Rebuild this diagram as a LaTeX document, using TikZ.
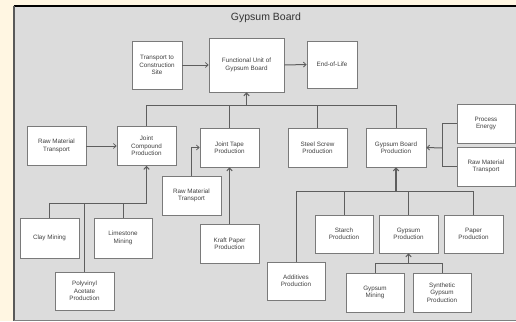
\documentclass[tikz,border=0pt]{standalone}
\usepackage{fontspec}
\setmainfont{Liberation Sans}
\usetikzlibrary{arrows.meta}
\definecolor{cream}{HTML}{FFF6E2}
\definecolor{panelgray}{HTML}{DCDCDC}
\definecolor{boxline}{HTML}{7A7A7A}
\definecolor{conn}{HTML}{5E5E5E}
\definecolor{txt}{HTML}{404040}
\begin{document}
\begin{tikzpicture}[x=1pt,y=-1pt,
  box/.style={draw=boxline,fill=white,line width=0.9pt,align=center,
    font=\fontsize{6.3}{7.4}\selectfont,text=txt,inner sep=1pt,
    minimum width=59pt,minimum height=39pt},
  link/.style={draw=conn,line width=1pt},
  arr/.style={link,-{Straight Barb[length=2.6pt,width=5pt,line width=0.8pt]}},
  mainarr/.style={draw=conn,line width=1.6pt,-{Straight Barb[length=2.8pt,width=5.5pt,line width=1pt]}}]
\useasboundingbox (0,0) rectangle (516,321);
\fill[cream] (0,0) rectangle (516,321);
\fill[panelgray] (13.5,6) rectangle (517,320);
\draw[black,line width=1.2pt] (13.5,6) -- (517,6);
\draw[gray!70!black,line width=1.6pt] (14,6) -- (14,321);
\draw[gray,line width=1pt] (13.5,320.5) -- (517,320.5);
\node[font=\fontsize{10.5}{12}\selectfont,text=black!80] (title) at (266,18) {Gypsum Board};

\node[box,minimum width=50pt,minimum height=48pt] (tr) at (157,65) {Transport to\\Construction\\Site};
\node[box,minimum width=75pt,minimum height=54pt] (fu) at (246.5,65) {Functional Unit of\\Gypsum Board};
\node[box,minimum width=50pt,minimum height=47pt] (eol) at (332,64.5) {End-of-Life};

\node[box] (rmt1) at (56.5,146) {Raw Material\\Transport};
\node[box] (jc) at (146.5,146) {Joint\\Compound\\Production};
\node[box] (jt) at (229.5,147.5) {Joint Tape\\Production};
\node[box] (ss) at (317.5,147.5) {Steel Screw\\Production};
\node[box,minimum width=60pt] (gbp) at (396,147.5) {Gypsum Board\\Production};
\node[box,minimum width=58pt] (pe) at (486,123.5) {Process\\Energy};
\node[box,minimum width=58pt] (rmt3) at (486,166.5) {Raw Material\\Transport};
\node[box] (rmt2) at (191.5,195.5) {Raw Material\\Transport};
\node[box] (kp) at (229.5,243.5) {Kraft Paper\\Production};
\node[box,minimum height=40pt] (clay) at (49.5,238) {Clay Mining};
\node[box,minimum width=58pt,minimum height=40pt] (lime) at (123,238) {Limestone\\Mining};
\node[box,minimum height=38pt] (pva) at (84.5,291) {Polyvinyl\\Acetate\\Production};
\node[box,minimum width=58pt,minimum height=38pt] (starch) at (344,234) {Starch\\Production};
\node[box,minimum height=38pt] (gp) at (408.5,234) {Gypsum\\Production};
\node[box,minimum height=38pt] (paper) at (473.5,234) {Paper\\Production};
\node[box,minimum width=58pt,minimum height=38pt] (add) at (296,281) {Additives\\Production};
\node[box,minimum width=58pt] (gm) at (375,292.5) {Gypsum\\Mining};
\node[box,minimum width=58pt] (sgp) at (442,292.5) {Synthetic\\Gypsum\\Production};

% top row
\draw[arr] (tr.east) -- (fu.west);
\draw[arr] (fu.east) -- (eol.west);

% bus into functional unit
\coordinate (b1) at (246.5,105);
\draw[link] (jc.north) |- (b1);
\draw[link] (gbp.north) |- (b1);
\draw[link] (jt.north) -- (jt.north |- b1);
\draw[link] (ss.north) -- (ss.north |- b1);
\draw[mainarr] (b1) -- (fu.south);

% joint compound
\draw[arr] (rmt1.east) -- (jc.west);
\coordinate (b2) at (146.5,203);
\draw[link] (clay.north) |- (b2);
\draw[link] (pva.north) -- (pva.north |- b2);
\draw[link] (lime.north) -- (lime.north |- b2);
\draw[mainarr] (b2) -- (jc.south);

% joint tape
\draw[arr] (rmt2.north) |- (jt.west);
\draw[mainarr] (kp.north) -- (jt.south);

% gypsum board production inputs
\coordinate (j) at (442,148);
\draw[link] (pe.west) -| (j);
\draw[link] (rmt3.west) -| (j);
\draw[arr] (j) -- (gbp.east);
\coordinate (b3) at (396,191);
\draw[link] (add.north) |- (b3);
\draw[link] (paper.north) |- (b3);
\draw[link] (starch.north) -- (starch.north |- b3);
\draw[link] (gp.north) -- (gp.north |- b3);
\draw[mainarr] (b3) -- (gbp.south);

% gypsum production
\coordinate (b4) at (408.5,263);
\draw[link] (gm.north) |- (b4);
\draw[link] (sgp.north) |- (b4);
\draw[mainarr] (b4) -- (gp.south);
\end{tikzpicture}
\end{document}
